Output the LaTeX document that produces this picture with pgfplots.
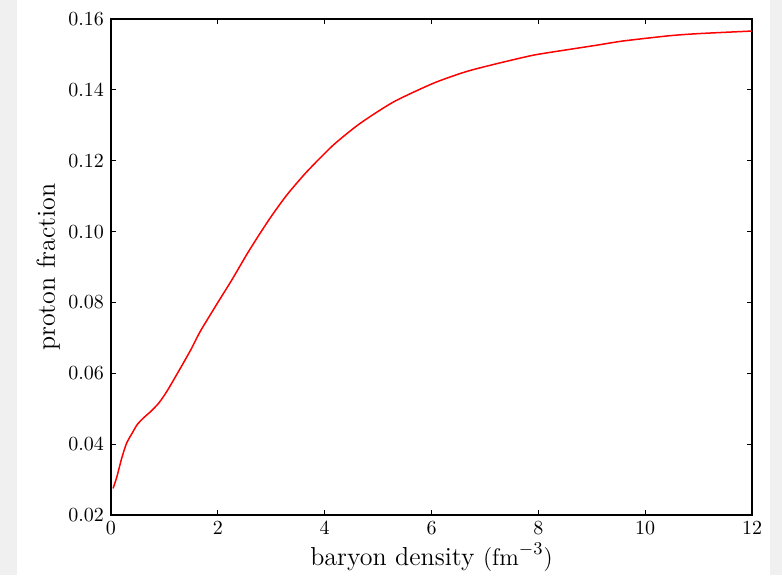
\documentclass[border=0pt]{standalone}
\usepackage{pgfplots}
\pgfplotsset{compat=1.18}
\begin{document}
\begin{tikzpicture}
\fill[black!6] (0,0) rectangle (391pt,287.5pt);
\fill[white] (8.5pt,0) rectangle (385pt,287.5pt);
\path[use as bounding box] (0,0) rectangle (391pt,287.5pt);
\begin{axis}[
  at={(55.5pt,30pt)}, anchor=south west,
  scale only axis, width=320.5pt, height=248pt,
  xmin=0, xmax=12, ymin=0.02, ymax=0.16,
  xtick={0,2,...,12},
  ytick={0.02,0.04,0.06,0.08,0.10,0.12,0.14,0.16},
  yticklabel style={/pgf/number format/.cd, fixed, fixed zerofill, precision=2},
  scaled y ticks=false,
  tick align=inside, major tick length=2.5pt,
  tick style={black, line width=0.5pt},
  axis line style={black, line width=0.8pt},
  tick label style={font=\fontsize{10}{12}\selectfont},
  xlabel={baryon density $(\mathrm{fm}^{-3})$},
  ylabel={proton fraction},
  label style={font=\fontsize{13}{15}\selectfont},
  xlabel style={at={(axis description cs:0.5,-0.085)}, anchor=center},
  ylabel style={at={(axis description cs:-0.098,0.5)}, anchor=center, rotate=0},
]
\addplot[red, line width=0.75pt, smooth, tension=0.4] coordinates {
(0.04,0.0275)
(0.11,0.0308)
(0.20,0.0360)
(0.29,0.0402)
(0.40,0.0432)
(0.49,0.0455)
(0.60,0.0473)
(0.75,0.0493)
(0.90,0.0517)
(1.05,0.0550)
(1.29,0.0612)
(1.50,0.0668)
(1.67,0.0718)
(1.98,0.0795)
(2.26,0.0863)
(2.54,0.0935)
(2.79,0.0995)
(3.01,0.1045)
(3.29,0.1103)
(3.66,0.1168)
(4.16,0.1244)
(4.66,0.1305)
(5.29,0.1366)
(6.04,0.1419)
(6.66,0.1452)
(7.28,0.1476)
(7.91,0.1498)
(8.53,0.1513)
(9.09,0.1526)
(9.59,0.1538)
(10.47,0.1553)
(11.03,0.1559)
(12.0,0.1566)
};
\end{axis}
\end{tikzpicture}
\end{document}
